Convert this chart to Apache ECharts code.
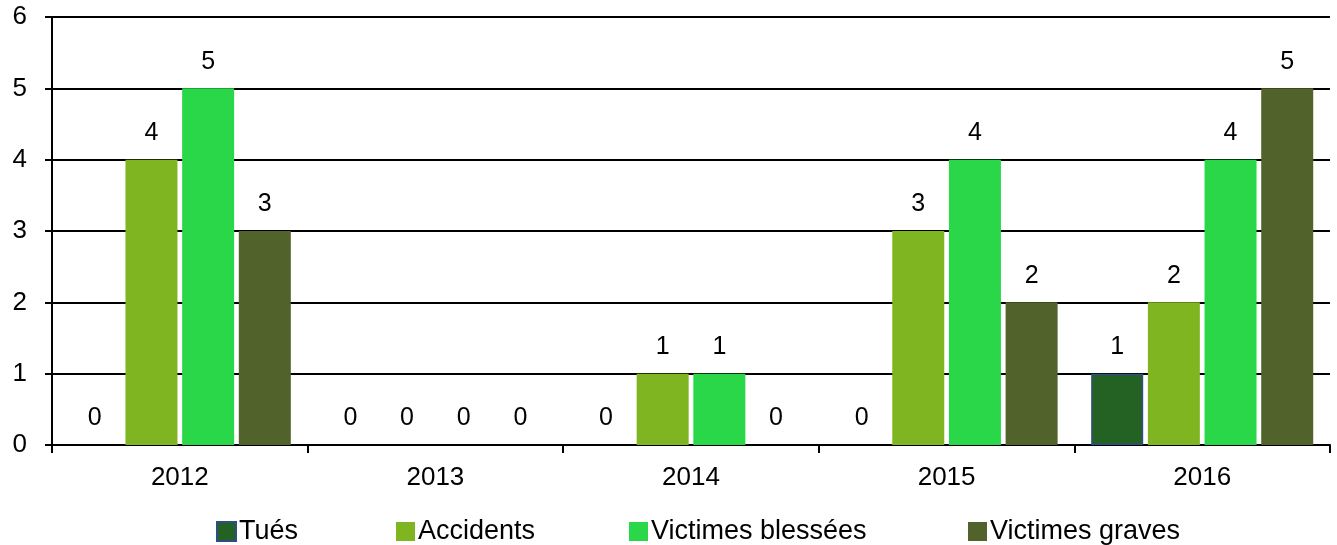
<!DOCTYPE html>
<html>
<head>
<meta charset="utf-8">
<script src="https://cdn.jsdelivr.net/npm/echarts@6/dist/echarts.min.js"></script>
<style>
html,body{margin:0;padding:0;background:#fff;}
#chart{width:1337px;height:545px;}
</style>
</head>
<body>
<div id="chart"></div>
<script>
const categories = ['2012', '2013', '2014', '2015', '2016'];
const tues = [0, 0, 0, 0, 1];
const accidents = [4, 0, 1, 3, 2];
const victimesBlessees = [5, 0, 1, 4, 4];
const victimesGraves = [3, 0, 0, 2, 5];
const seriesNames = ['Tués', 'Accidents', 'Victimes blessées', 'Victimes graves'];
const yTicks = [0, 1, 2, 3, 4, 5, 6];

const FONT = "'Liberation Sans', Arial, sans-serif";
const colors = ['#236223', '#7FB521', '#29D748', '#51622B'];
const borders = ['#2D4E82', null, null, null];
const seriesData = [tues, accidents, victimesBlessees, victimesGraves];
const legendLeft = [216, 396, 629, 968];

const chart = echarts.init(document.getElementById('chart'), null, {renderer: 'canvas'});

const series = seriesNames.map((name, i) => ({
  name: name,
  type: 'bar',
  data: seriesData[i].map(v => v === 0 ? {value: v, itemStyle: {borderWidth: 0}} : v),
  barWidth: 52,
  barGap: '9%',
  itemStyle: {
    color: colors[i],
    borderColor: borders[i] || colors[i],
    borderWidth: borders[i] ? 1.5 : 0
  },
  label: {
    show: true,
    position: 'top',
    distance: 14,
    color: '#000',
    fontSize: 25,
    fontFamily: FONT
  },
  emphasis: {disabled: true}
}));

chart.setOption({
  animation: false,
  backgroundColor: '#fff',
  textStyle: {fontFamily: FONT},
  grid: {left: 52, right: 7, top: 17, bottom: 100, containLabel: false},
  legend: seriesNames.map((name, i) => ({
    data: [name],
    left: legendLeft[i],
    top: 518,
    itemWidth: 19,
    itemHeight: 19,
    icon: 'rect',
    padding: 0,
    textStyle: {fontSize: 27, color: '#000', fontFamily: FONT, padding: [0, 0, 0, -2]},
    selectedMode: false
  })),
  xAxis: {
    type: 'category',
    data: categories,
    axisLine: {show: true, lineStyle: {color: '#000', width: 2}},
    axisTick: {show: true, length: 8, lineStyle: {color: '#000', width: 2}},
    axisLabel: {fontSize: 26, color: '#000', margin: 20, fontFamily: FONT},
    splitLine: {show: false}
  },
  yAxis: {
    type: 'value',
    min: yTicks[0],
    max: yTicks[yTicks.length - 1],
    interval: 1,
    axisLine: {show: true, lineStyle: {color: '#000', width: 2}},
    axisTick: {show: true, length: 7, lineStyle: {color: '#000', width: 2}},
    axisLabel: {fontSize: 26, color: '#000', margin: 25, fontFamily: FONT, padding: [4, 0, 0, 0]},
    splitLine: {show: true, lineStyle: {color: '#000', width: 2}}
  },
  series: series
});
</script>
</body>
</html>
